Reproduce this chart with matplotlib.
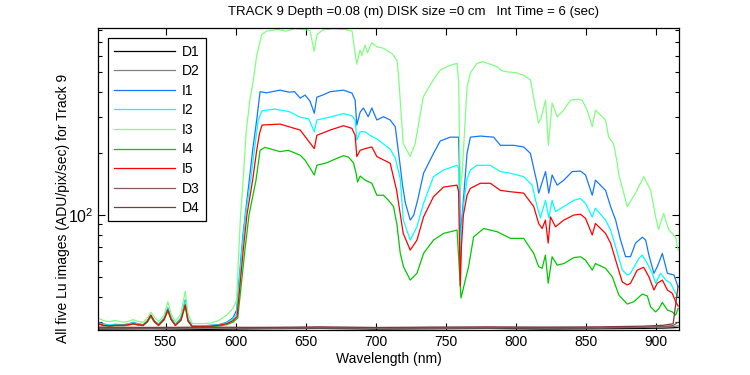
import matplotlib.pyplot as plt
from matplotlib.ticker import LogLocator, NullFormatter, LogFormatterMathtext

plt.rcParams['font.family'] = ['Liberation Sans', 'DejaVu Sans']
plt.rcParams['mathtext.default'] = 'regular'

# ---- data (wavelength in nm, signal in ADU/pix/sec) ----
# shared sampling for the quiet part below 600 nm
low_wl = [502, 506, 510, 514, 520, 524, 527, 530, 534, 537, 539.5, 542, 545, 549, 551.6, 554,
          557, 561, 564, 566, 569, 575, 582, 588, 593.6, 598]

i3_wl = low_wl + [
    600.7, 601.9, 603.5, 605.4, 607.4, 610, 612.6, 615, 618.6, 622, 630, 636, 642, 648, 653,
    656, 658, 662, 670, 678, 683, 685.2, 686.4, 688.7, 690, 692.3, 694, 697, 701, 705, 711.4,
    715, 716, 719.5, 724.5, 728, 733.8, 740.9, 745.9, 752, 757.9, 759, 760.2, 761.5, 763, 765,
    767.4, 772.1, 776.6, 786.4, 790, 793.6, 800, 805.2, 810.2, 812.4, 816, 818, 821, 823, 825.7,
    829.3, 833.8, 838.8, 843.6, 847.1, 850.7, 854.3, 856.6, 863.8, 866, 869.5, 872.1, 873,
    879.3, 885.2, 891, 896, 899.5, 901.6, 905.2, 908.8, 913.8, 915.5]
i3_val = [31.4, 30.5, 30.2, 30.6, 30, 30.4, 30.9, 30.3, 30, 31.5, 33.6, 31.8, 30.2, 32.5, 37.8, 33,
          30.2, 33, 42.5, 33, 29.6, 29.5, 29.7, 30.6, 32.5, 35] + [
    38.5, 60, 100, 150, 250, 360, 456, 600, 760, 790, 805, 790, 812, 805, 795,
    630, 760, 800, 812, 805, 790, 615, 545, 638, 600, 675, 620, 694, 660, 653, 615,
    570, 495, 223, 193, 223, 378, 456, 510, 535, 550, 450, 136, 160, 240, 420,
    495, 550, 560, 530, 505, 500, 495, 482, 456, 378, 281, 300, 364, 219, 352,
    301, 325, 364, 368, 364, 325, 270, 325, 291, 240, 223, 180, 160,
    110, 128, 154, 132, 98, 85, 102, 85, 78, 67.5]

i1_wl = low_wl + [
    600.7, 603.6, 605.2, 607.5, 609.7, 612.1, 615, 617.4, 622, 631.6, 638, 642, 646, 649.5,
    653, 656.1, 657.9, 662, 667.4, 676.9, 682.9, 685.2, 686.4, 688.8, 691.1, 694.5, 697.1,
    700.7, 705.4, 710.2, 713.8, 717.4, 719, 721, 724.5, 727, 730, 734, 741.1, 745.9, 753.1,
    759, 759.8, 760.2, 761, 762.4, 765, 767.4, 774.5, 784, 788.8, 798.3, 805.4, 810.2, 815,
    816.1, 821, 823.3, 825.7, 829.3, 834, 840, 845.9, 849.5, 854.3, 856.6, 863.8, 867.4, 871,
    874.5, 878.1, 881.6, 885.2, 890, 892.4, 894.7, 898.3, 900.7, 904.3, 907.9, 912.6, 915.5]
i1_val = [30, 29.4, 29, 29.3, 29.2, 29.5, 30, 29.5, 29.2, 30.5, 32.5, 30.5, 29.3, 31.5, 35.3, 31.5,
          29.3, 31.5, 38.5, 31, 28.9, 28.8, 29, 29.2, 30, 31.5] + [
    34.4, 60, 80, 110, 148, 207, 291, 400, 395, 407, 398, 400, 372, 385,
    360, 314, 376, 385, 400, 407, 394, 364, 275, 318, 333, 302, 333,
    291, 302, 291, 270, 173, 140, 115, 94.5, 100, 120, 160, 200, 230, 240,
    240, 150, 64, 90, 118, 200, 240, 243, 240, 219, 219, 215, 200, 143,
    128, 163, 128, 157, 140, 148, 163, 164, 157, 125, 148, 132, 110, 94.5,
    75.5, 62.7, 62.7, 73, 78, 75.5, 63.8, 52, 56, 65, 52, 51, 44.7]

i2_wl = low_wl + [
    600.7, 604.5, 607, 610.7, 613.3, 616.1, 618.8, 628, 638, 646, 652, 656.1, 657.9, 667.4,
    676.9, 682.9, 685.2, 686.4, 688.8, 692.3, 695.8, 700.7, 710.2, 713.8, 717.4, 719.5, 724.5,
    729.3, 734, 741.1, 748.3, 757.9, 759, 760.2, 761, 762.4, 765, 767.4, 772, 781.6, 788.8,
    796, 805.4, 811.4, 815, 817.3, 821, 823.3, 825.7, 828.1, 834, 841.1, 845.9, 849.5, 854.3,
    856.6, 863.8, 867.4, 871, 875.7, 879.3, 881.6, 887.6, 890, 893.6, 897.1, 899.5, 903.1,
    906.7, 910.2, 913.8, 915.5]
i2_val = [29.8, 29.2, 29, 29.2, 29.1, 29.4, 29.8, 29.4, 29.1, 30.3, 32.2, 30.3, 29.2, 31.2, 35, 31.2,
          29.2, 31.2, 38, 30.8, 28.8, 28.8, 28.9, 29.1, 29.8, 31] + [
    33, 67.5, 100, 148, 207, 291, 323, 329, 320, 300, 295, 255, 291, 301,
    313, 305, 291, 232, 255, 255, 245, 235, 210, 190, 150, 95, 75.5,
    87.7, 114, 154, 166, 175, 170, 60, 85, 110, 150, 166, 175, 175, 163,
    160, 154, 140, 110, 97, 118, 97, 118, 104, 110, 118, 120.6, 114, 98,
    108, 94.5, 84.5, 70, 54, 51, 52, 61.5, 63.8, 58, 52, 46.5, 52,
    48.2, 46.5, 41.5, 40]

i4_wl = low_wl + [
    601.5, 606.6, 609.5, 614.5, 617.4, 620.9, 631.6, 637.6, 646, 649.6, 656.1, 657.9, 665,
    672.1, 676.9, 680.4, 684, 685.9, 686.9, 688.8, 692.4, 697.1, 700.7, 705.4, 709, 712.6,
    715, 717.4, 719.7, 724.5, 729.3, 734, 741.1, 748.3, 757.9, 760.7, 766.1, 769.7, 776.9,
    786.4, 796, 805.4, 812.6, 816.1, 818.6, 820.9, 822.9, 825.7, 829.3, 834, 841.1, 845.9,
    849.5, 854.3, 856.6, 863.8, 868.6, 873.3, 879.3, 884, 890, 893.6, 895.9, 899.5, 901.9,
    904.3, 907.9, 911.4, 913.8, 915.5]
i4_val = [29.3, 28.9, 28.7, 28.9, 28.9, 29.1, 29.4, 29.1, 28.9, 30, 32, 30, 28.9, 30.8, 34, 30.8,
          28.9, 30.6, 36, 30.3, 28.5, 28.5, 28.6, 28.8, 29.2, 30] + [
    31.5, 67.5, 100, 148, 207, 214, 204, 207, 196, 185, 157, 175, 180,
    189, 195, 192, 180, 160, 145, 155, 148, 143, 125, 125, 118, 110,
    90, 65, 56, 48.2, 52, 65, 75.5, 81.4, 84.5, 39.4, 56, 78.3, 86,
    83, 77, 77, 65, 56, 55, 63.8, 46.5, 62.6, 57, 58, 62, 62.6,
    60.3, 53.9, 58, 55, 50, 40.7, 36.8, 37.8, 41.2, 40.3, 35.7, 33.7, 35,
    37.5, 34.4, 33.7, 32.5, 35]

i5_wl = low_wl + [
    601, 605.4, 608, 612.1, 615, 617, 618.8, 631.6, 646, 656.1, 657.9, 667.4, 676.9, 682.9,
    685.2, 686.4, 688.8, 692.3, 697.1, 700.7, 710.2, 714.8, 719.5, 724.5, 729.3, 734, 741.1,
    748.3, 757.9, 759, 760.2, 761, 762.4, 765, 767.4, 774.5, 781.6, 788.8, 796, 805.4, 812.6,
    816.1, 818.6, 820.9, 822.9, 824.5, 828.1, 834, 841.1, 845.9, 849.5, 854.3, 856.6, 863.8,
    867.4, 871, 875.7, 879.3, 881.6, 886.4, 891, 894.7, 898.3, 900.7, 904.3, 907.9, 911.4,
    913.8, 915.5]
i5_val = [29.5, 29, 28.8, 29, 29, 29.2, 29.5, 29.2, 29, 30.3, 32.5, 30.3, 29, 31, 34.5, 31,
          29, 30.8, 36.5, 30.5, 28.6, 28.6, 28.7, 29, 29.5, 30.5] + [
    32, 67.5, 100, 148, 207, 250, 275, 278, 260, 211, 245, 260, 273, 265,
    245, 193, 207, 211, 215, 193, 179, 132, 81.4, 67.5, 75.5, 98, 123,
    137, 140, 130, 45, 70, 100, 125, 135, 143, 143, 132, 130, 128, 110,
    91, 86, 94.5, 73, 98, 87.7, 94.5, 100, 101, 96.4, 80, 91, 81.4,
    73, 60.3, 47.2, 45.6, 46.5, 53.9, 55.6, 50, 43.1, 46.5, 48.2, 43.1, 41.5,
    37.8, 36]

d_wl = [502, 540, 580, 620, 660, 700, 740, 780, 820, 860, 890, 905, 912, 915.5]
d1_val = [27.8, 27.9, 27.7, 27.9, 28.0, 27.8, 27.9, 28.0, 27.8, 27.9, 28.0, 28.1, 28.2, 28.3]
d2_val = [28.3, 28.2, 28.1, 28.3, 28.2, 28.1, 28.3, 28.2, 28.3, 28.2, 28.4, 28.5, 28.6, 28.8]
d3_val = [28.1, 28.0, 28.2, 28.0, 28.1, 28.2, 28.0, 28.1, 28.2, 28.1, 28.3, 28.6, 28.9, 30.0]
d4_val = [28.4, 28.3, 28.4, 28.3, 28.5, 28.3, 28.4, 28.5, 28.4, 28.5, 28.7, 29.0, 29.5, 45.0]

# legend order: D1 D2 I1 I2 I3 I4 I5 D3 D4
series = [
    ("D1", d_wl, d1_val, "#000000"),
    ("D2", d_wl, d2_val, "#808080"),
    ("I1", i1_wl, i1_val, "#1478ff"),
    ("I2", i2_wl, i2_val, "#00ffff"),
    ("I3", i3_wl, i3_val, "#80ff80"),
    ("I4", i4_wl, i4_val, "#00c800"),
    ("I5", i5_wl, i5_val, "#ff0000"),
    ("D3", d_wl, d3_val, "#805c5c"),
    ("D4", d_wl, d4_val, "#803838"),
]

fig = plt.figure(figsize=(7.5, 3.75), dpi=100)
ax = fig.add_axes([0.131, 0.12, 0.774, 0.805])

for name, wl, val, col in series:
    ax.plot(wl, val, color=col, lw=0.9, label=name)

ax.set_yscale('log')
ax.set_xlim(502, 916)
ax.set_ylim(27.5, 817)
ax.set_xticks([550, 600, 650, 700, 750, 800, 850, 900])
ax.yaxis.set_major_locator(LogLocator(base=10))
ax.yaxis.set_major_formatter(LogFormatterMathtext())
ax.yaxis.set_minor_locator(LogLocator(base=10, subs=range(2, 10)))
ax.yaxis.set_minor_formatter(NullFormatter())

ax.tick_params(which='both', direction='in', top=True, right=True, labelsize=10, width=0.8)
ax.tick_params(axis='y', which='major', labelsize=11.5)
ax.tick_params(which='major', length=5)
ax.tick_params(which='minor', length=3)
for s in ax.spines.values():
    s.set_linewidth(0.9)

ax.set_xlabel("Wavelength (nm)", fontsize=10, labelpad=2)
fig.text(63 / 750, 1 - 208 / 375, "All five Lu images (ADU/pix/sec) for Track 9",
         rotation=90, ha='center', va='center', fontsize=10)
fig.text(413 / 750, 1 - 12 / 375,
         "TRACK 9 Depth =0.08 (m) DISK size =0 cm   Int Time = 6 (sec)",
         ha='center', va='center', fontsize=9.5)

leg = ax.legend(loc='upper left', bbox_to_anchor=(0.0167, 0.966), fontsize=10,
                handlelength=4.4, handletextpad=0.5, labelspacing=0.4,
                borderpad=0.45, borderaxespad=0, fancybox=False, framealpha=1)
leg.get_frame().set_edgecolor('black')
leg.get_frame().set_linewidth(0.9)

fig.savefig("out.png", dpi=100)
